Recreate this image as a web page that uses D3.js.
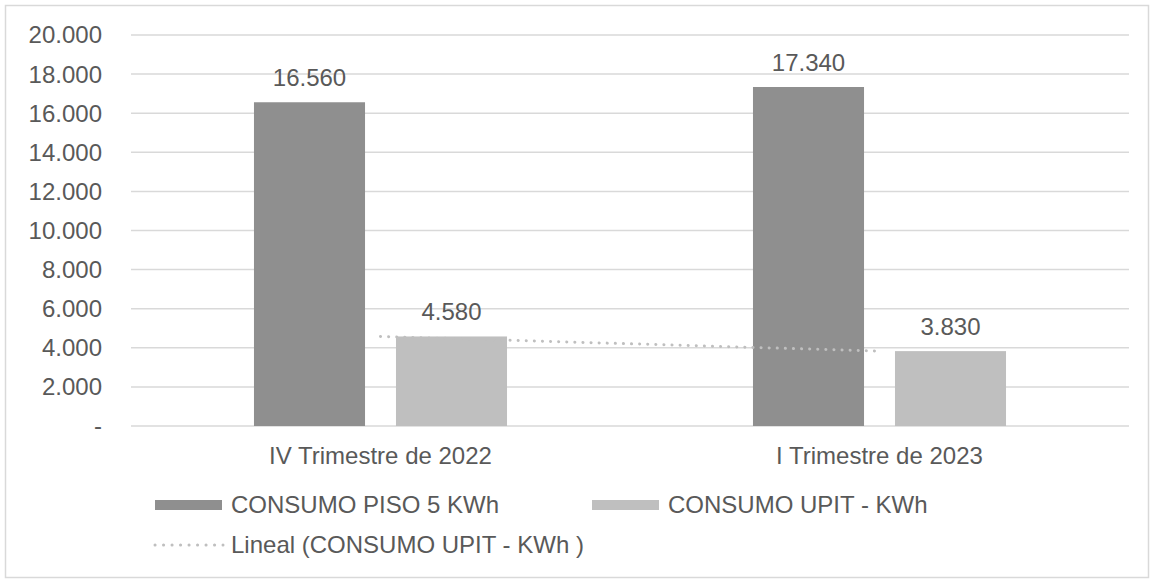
<!DOCTYPE html>
<html>
<head>
<meta charset="utf-8">
<script src="https://cdn.jsdelivr.net/npm/d3@7"></script>
<style>
  body { margin: 0; background: #fff; }
  text { font-family: "Liberation Sans", Arial, sans-serif; fill: #595959; }
</style>
</head>
<body>
<div class="canvas"></div>
<script>
// data
const categories = ["IV Trimestre de 2022", "I Trimestre de 2023"];
const seriesNames = ["CONSUMO PISO 5 KWh", "CONSUMO UPIT - KWh"];
const piso5 = [16560, 17340];
const upit = [4580, 3830];
const trendName = "Lineal (CONSUMO UPIT - KWh )";
const yTicks = [0, 2000, 4000, 6000, 8000, 10000, 12000, 14000, 16000, 18000, 20000];
const colors = ["#8f8f8f", "#bfbfbf"];

const W = 1152, H = 581;
const svg = d3.select(".canvas").append("svg").attr("width", W).attr("height", H);

// outer chart border
svg.append("rect")
  .attr("x", 5.5).attr("y", 5.5)
  .attr("width", W - 9).attr("height", H - 9)
  .attr("fill", "none").attr("stroke", "#d9d9d9").attr("stroke-width", 1.5);

const plotLeft = 131, plotRight = 1129, plotTop = 35, plotBottom = 426;

let y = d3.scaleLinear().domain([0, 20000]).range([plotBottom, plotTop]);
let x0 = d3.scaleBand().domain(categories).range([plotLeft, plotRight]);
let x1 = d3.scaleBand().domain(seriesNames).range([0, x0.bandwidth()]).paddingInner(0.218).paddingOuter(0.866);

const fmt = (v) => v === 0 ? "-" : d3.format(",")(v).replace(/,/g, ".");

// gridlines
svg.append("g")
  .selectAll("line")
  .data(yTicks)
  .join("line")
  .attr("x1", plotLeft).attr("x2", plotRight)
  .attr("y1", (d) => y(d)).attr("y2", (d) => y(d))
  .attr("stroke", "#d9d9d9").attr("stroke-width", 1.5);

// y axis labels
svg.append("g")
  .selectAll("text")
  .data(yTicks)
  .join("text")
  .attr("x", 102)
  .attr("y", (d) => y(d))
  .attr("dy", "0.35em")
  .attr("text-anchor", "end")
  .style("font-size", "24px")
  .text((d) => fmt(d));

// bars
const rows = categories.map((c, i) => ({ cat: c, values: [piso5[i], upit[i]] }));
const groups = svg.append("g")
  .selectAll("g")
  .data(rows)
  .join("g")
  .attr("transform", (d) => `translate(${x0(d.cat)},0)`);

groups.selectAll("rect")
  .data((d) => d.values.map((v, j) => ({ name: seriesNames[j], value: v, idx: j })))
  .join("rect")
  .attr("x", (d) => x1(d.name))
  .attr("width", x1.bandwidth())
  .attr("y", (d) => y(d.value))
  .attr("height", (d) => y(0) - y(d.value))
  .attr("fill", (d) => colors[d.idx]);

// trend line (linear fit through the UPIT series, category centres)
const line = d3.line()
  .x((d, i) => x0(categories[i]) + x0.bandwidth() / 2)
  .y((d) => y(d));
svg.append("path")
  .datum(upit)
  .attr("d", line)
  .attr("fill", "none")
  .attr("stroke", "#bfbfbf")
  .attr("stroke-width", 3)
  .attr("stroke-linecap", "round")
  .attr("stroke-dasharray", "0.1 8");

// value labels
groups.selectAll("text")
  .data((d) => d.values.map((v, j) => ({ name: seriesNames[j], value: v })))
  .join("text")
  .attr("x", (d) => x1(d.name) + x1.bandwidth() / 2)
  .attr("y", (d) => y(d.value) - 16)
  .attr("text-anchor", "middle")
  .style("font-size", "24px")
  .text((d) => fmt(d.value));

// category labels
svg.append("g")
  .selectAll("text")
  .data(categories)
  .join("text")
  .attr("x", (d) => x0(d) + x0.bandwidth() / 2)
  .attr("y", 464)
  .attr("text-anchor", "middle")
  .style("font-size", "24px")
  .text((d) => d);

// legend
const leg = svg.append("g");
const legItems = [
  { x: 155, y: 505, name: seriesNames[0], kind: "bar", color: colors[0] },
  { x: 592, y: 505, name: seriesNames[1], kind: "bar", color: colors[1] },
  { x: 155, y: 545, name: trendName, kind: "line", color: colors[1] }
];
legItems.forEach((it) => {
  if (it.kind === "bar") {
    leg.append("rect")
      .attr("x", it.x).attr("y", it.y - 5)
      .attr("width", 67).attr("height", 10)
      .attr("fill", it.color);
  } else {
    leg.append("line")
      .attr("x1", it.x).attr("x2", it.x + 68)
      .attr("y1", it.y).attr("y2", it.y)
      .attr("stroke", it.color).attr("stroke-width", 3)
      .attr("stroke-linecap", "round")
      .attr("stroke-dasharray", "0.1 8.4");
  }
  leg.append("text")
    .attr("x", it.x + 76)
    .attr("y", it.y)
    .attr("dy", "0.35em")
    .style("font-size", "24px")
    .text(it.name);
});
</script>
</body>
</html>
